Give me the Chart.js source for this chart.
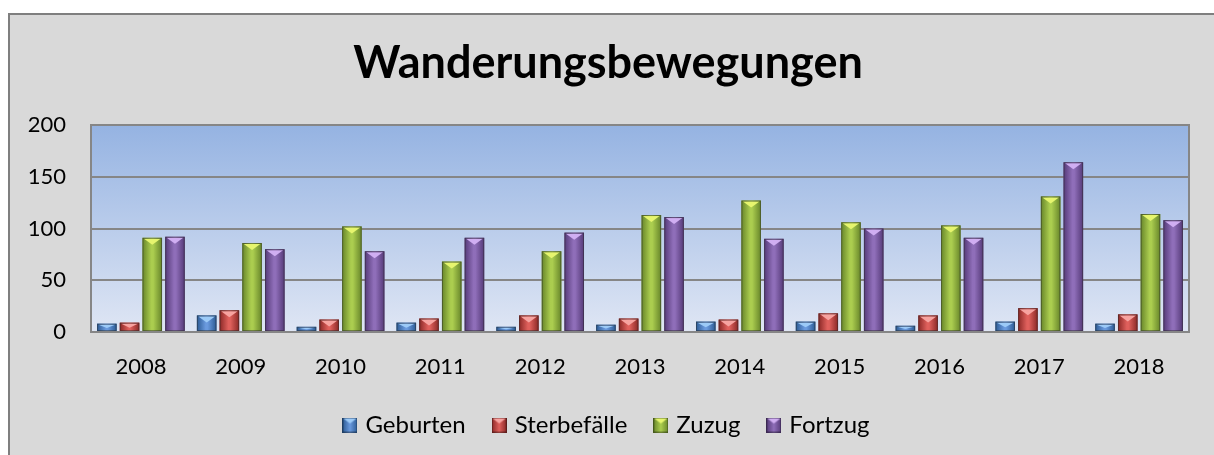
<!DOCTYPE html>
<html>
<head>
<meta charset="utf-8">
<script src="https://cdn.jsdelivr.net/npm/chart.js@4/dist/chart.umd.min.js"></script>
<style>
    html, body { margin: 0; padding: 0; background: #fff; }
    #frame {
        position: absolute; left: 8px; top: 13px; width: 1220px; height: 460px;
        background: #d9d9d9; border-left: 2px solid #7f7f7f; border-top: 2px solid #7f7f7f;
    }
    #wrap { position: absolute; left: 0; top: 0; width: 1214px; height: 455px; }
</style>
</head>
<body>
<div id="frame"></div>
<div id="wrap"><canvas id="chart"></canvas></div>
<script>
// values
const years = ['2008', '2009', '2010', '2011', '2012', '2013', '2014', '2015', '2016', '2017', '2018'];
const geburten = [8, 16, 5, 9, 5, 7, 10, 10, 6, 10, 8];
const sterbefaelle = [9, 21, 12, 13, 16, 13, 12, 18, 16, 23, 17];
const zuzug = [91, 86, 102, 68, 78, 113, 127, 106, 103, 131, 114];
const fortzug = [92, 80, 78, 91, 96, 111, 90, 100, 91, 164, 108];
const yTicks = [0, 50, 100, 150, 200];

const FONT = 'Lato, "Open Sans", sans-serif';

// shading per series: edge, center, top triangle
const shades = [
    { base: '#4a7ebb', edge: '#2b5a93', mid: '#6a9ade', tip: '#9ccaf7' },
    { base: '#be4b48', edge: '#8a2826', mid: '#df605c', tip: '#f7a3a0' },
    { base: '#98b954', edge: '#67852a', mid: '#abcd4f', tip: '#e6f56e' },
    { base: '#7d60a0', edge: '#553a78', mid: '#8f6eb9', tip: '#d0aef2' },
];

function bevelBox(s) {
    const c = document.createElement('canvas');
    c.width = 15; c.height = 15;
    const g = c.getContext('2d');
    const gr = g.createLinearGradient(0, 0, 15, 0);
    gr.addColorStop(0, s.edge);
    gr.addColorStop(0.5, s.mid);
    gr.addColorStop(1, s.edge);
    g.fillStyle = gr;
    g.fillRect(0, 0, 15, 15);
    g.fillStyle = s.tip;
    g.beginPath();
    g.moveTo(1, 1); g.lineTo(14, 1); g.lineTo(7.5, 6); g.closePath();
    g.fill();
    g.strokeStyle = 'rgba(0,0,0,0.35)';
    g.strokeRect(0.5, 0.5, 14, 14);
    return c;
}

const plotDecor = {
    id: 'plotDecor',
    beforeDraw(chart) {
        const { ctx, chartArea: a } = chart;
        const gr = ctx.createLinearGradient(0, a.top, 0, a.bottom);
        gr.addColorStop(0, '#95b3e2');
        gr.addColorStop(1, '#dfe6f4');
        ctx.save();
        ctx.fillStyle = gr;
        ctx.fillRect(a.left, a.top, a.right - a.left, a.bottom - a.top);
        ctx.restore();
    },
    afterDatasetsDraw(chart) {
        const { ctx, chartArea: a } = chart;
        ctx.save();
        chart.data.datasets.forEach((ds, i) => {
            const s = shades[i];
            chart.getDatasetMeta(i).data.forEach((bar) => {
                const w = bar.width;
                const x0 = bar.x - w / 2;
                const h = bar.base - bar.y;
                const gr = ctx.createLinearGradient(x0, 0, x0 + w, 0);
                gr.addColorStop(0, s.edge);
                gr.addColorStop(0.45, s.mid);
                gr.addColorStop(0.55, s.mid);
                gr.addColorStop(1, s.edge);
                ctx.fillStyle = gr;
                ctx.fillRect(x0, bar.y, w, h);
                const th = Math.min(7, h * 0.6);
                ctx.fillStyle = s.tip;
                ctx.beginPath();
                ctx.moveTo(x0 + 1.5, bar.y + 1);
                ctx.lineTo(x0 + w - 1.5, bar.y + 1);
                ctx.lineTo(bar.x, bar.y + th);
                ctx.closePath();
                ctx.fill();
                ctx.strokeStyle = 'rgba(40,40,40,0.45)';
                ctx.lineWidth = 1;
                ctx.strokeRect(x0 + 0.5, bar.y + 0.5, w - 1, h - 1);
            });
        });
        ctx.strokeStyle = '#868686';
        ctx.lineWidth = 2;
        ctx.strokeRect(a.left, a.top, a.right - a.left, a.bottom - a.top);
        ctx.restore();
    },
};

const names = ['Geburten', 'Sterbefälle', 'Zuzug', 'Fortzug'];
const series = [geburten, sterbefaelle, zuzug, fortzug];

new Chart(document.getElementById('chart'), {
    type: 'bar',
    data: {
        labels: years,
        datasets: series.map((vals, i) => ({
            label: names[i],
            data: vals,
            backgroundColor: shades[i].base,
            pointStyle: bevelBox(shades[i]),
            categoryPercentage: 0.91,
            barPercentage: 0.86,
        })),
    },
    options: {
        responsive: true,
        maintainAspectRatio: false,
        animation: false,
        layout: { padding: { left: 27, right: 25, top: 0, bottom: 8 } },
        plugins: {
            title: {
                display: true,
                text: 'Wanderungsbewegungen',
                color: '#000',
                font: { family: FONT, size: 45, weight: 'bold', lineHeight: 1.2 },
                padding: { top: 36, bottom: 35 },
            },
            legend: {
                position: 'bottom',
                labels: {
                    usePointStyle: true,
                    boxWidth: 7,
                    boxHeight: 15,
                    padding: 30,
                    color: '#000',
                    font: { family: FONT, size: 24 },
                },
            },
            tooltip: { enabled: false },
        },
        scales: {
            x: {
                grid: { display: false },
                border: { display: false },
                afterFit(scale) {
                    scale.height = 51;
                },
                ticks: { color: '#000', font: { family: FONT, size: 22 }, padding: 14 },
            },
            y: {
                min: 0,
                max: 200,
                afterBuildTicks(scale) {
                    scale.ticks = yTicks.map((v) => ({ value: v }));
                },
                afterFit(scale) {
                    scale.width = 64;
                },
                grid: { color: '#868686', lineWidth: 2, drawTicks: false },
                border: { display: false },
                ticks: { color: '#000', font: { family: FONT, size: 22 }, padding: 25 },
            },
        },
    },
    plugins: [plotDecor],
});
</script>
</body>
</html>
